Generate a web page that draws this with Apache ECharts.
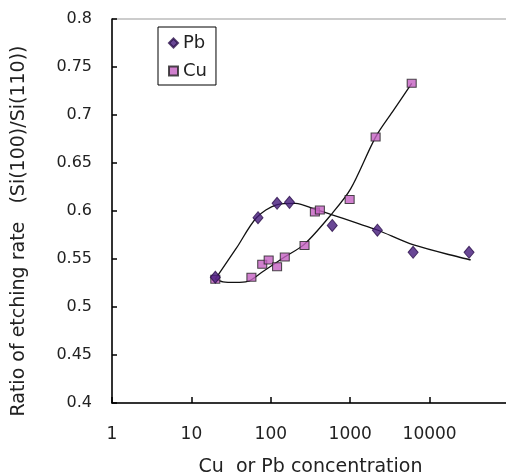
<!DOCTYPE html>
<html>
<head>
<meta charset="utf-8">
<script src="https://cdn.jsdelivr.net/npm/echarts@6/dist/echarts.min.js"></script>
<style>
    html, body { margin: 0; padding: 0; background: #fff; }
    #chart { width: 506px; height: 475px; }
</style>
</head>
<body>
<div id="chart"></div>
<script>
// 数据
var pbPoints = [[20, 0.531], [69, 0.593], [120, 0.608], [172, 0.609], [594, 0.585], [2200, 0.580], [6200, 0.557], [31400, 0.557]];
var cuPoints = [[20, 0.529], [57, 0.531], [78, 0.5445], [94, 0.549], [120, 0.542], [150, 0.552], [266, 0.564], [359, 0.599], [415, 0.601], [984, 0.612], [2090, 0.677], [5950, 0.733]];
// 趋势线
var pbTrend = [[20, 0.529], [37, 0.5615], [66, 0.593], [118, 0.6065], [205, 0.608], [366, 0.6015], [566, 0.5966], [1170, 0.5878], [2200, 0.5802], [6300, 0.5646], [33000, 0.549]];
var cuTrend = [[20, 0.529], [25, 0.5262], [36, 0.5256], [51, 0.5266], [78, 0.5365], [149, 0.552], [266, 0.5655], [594, 0.5976], [1012, 0.623], [2090, 0.677], [3524, 0.705], [5950, 0.733]];
var xTicks = [1, 10, 100, 1000, 10000];
var yTicks = [0.4, 0.45, 0.5, 0.55, 0.6, 0.65, 0.7, 0.75, 0.8];

var font = 'DejaVu Sans';
var textColor = '#222';

var myChart = echarts.init(document.getElementById('chart'));
var option = {
    backgroundColor: '#fff',
    animation: false,
    grid: {
        left: 112,
        top: 19,
        bottom: 72,
        width: 397,
        outerBoundsMode: 'none',
        containLabel: false,
        show: true,
        borderColor: '#999',
        borderWidth: 1
    },
    legend: {
        orient: 'vertical',
        left: 158,
        top: 27,
        data: ['Pb', 'Cu'],
        borderColor: '#000',
        borderWidth: 1,
        padding: [7, 9, 5, 10],
        itemGap: 10,
        itemWidth: 9,
        itemHeight: 9,
        textStyle: { fontFamily: font, fontSize: 18, color: textColor }
    },
    xAxis: {
        type: 'log',
        logBase: 10,
        min: 1,
        max: 100000,
        name: 'Cu  or Pb concentration',
        nameLocation: 'middle',
        nameGap: 55,
        nameTextStyle: { fontFamily: font, fontSize: 19, color: textColor },
        axisLine: { lineStyle: { color: '#000', width: 1.5 } },
        axisTick: { inside: true, length: 6, lineStyle: { color: '#000', width: 1.5 } },
        minorTick: { show: false },
        splitLine: { show: false },
        axisLabel: {
            fontFamily: font,
            fontSize: 17,
            color: textColor,
            margin: 23,
            formatter: function (v) {
                return xTicks.indexOf(v) >= 0 ? String(v) : '';
            }
        }
    },
    yAxis: {
        type: 'value',
        min: yTicks[0],
        max: yTicks[yTicks.length - 1],
        interval: 0.05,
        name: 'Ratio of etching rate   (Si(100)/Si(110))',
        nameLocation: 'middle',
        nameGap: 83,
        nameTextStyle: { fontFamily: font, fontSize: 19, color: textColor, padding: [0, 40, 0, 0] },
        axisLine: { show: true, lineStyle: { color: '#000', width: 1.5 } },
        axisTick: { show: true, inside: true, length: 5, lineStyle: { color: '#000', width: 1.5 } },
        splitLine: { show: false },
        axisLabel: {
            fontFamily: font,
            fontSize: 16,
            color: textColor,
            margin: 20,
            formatter: function (v) {
                return parseFloat(v.toFixed(2)).toString();
            }
        }
    },
    series: [{
        name: 'PbTrend',
        type: 'line',
        data: pbTrend,
        smooth: 0.3,
        symbol: 'none',
        lineStyle: { color: '#111', width: 1.3 },
        z: 1
    }, {
        name: 'CuTrend',
        type: 'line',
        data: cuTrend,
        smooth: 0.3,
        symbol: 'none',
        lineStyle: { color: '#111', width: 1.3 },
        z: 1
    }, {
        name: 'Pb',
        type: 'scatter',
        data: pbPoints,
        symbol: 'diamond',
        symbolSize: [10, 12],
        itemStyle: { color: '#43197a', borderColor: '#2a0f4a', borderWidth: 1 },
        z: 3
    }, {
        name: 'Cu',
        type: 'scatter',
        data: cuPoints,
        symbol: 'rect',
        symbolSize: [9, 8],
        itemStyle: { color: '#c460c2', borderColor: '#222', borderWidth: 1 },
        z: 2
    }]
};
myChart.setOption(option);
</script>
</body>
</html>
